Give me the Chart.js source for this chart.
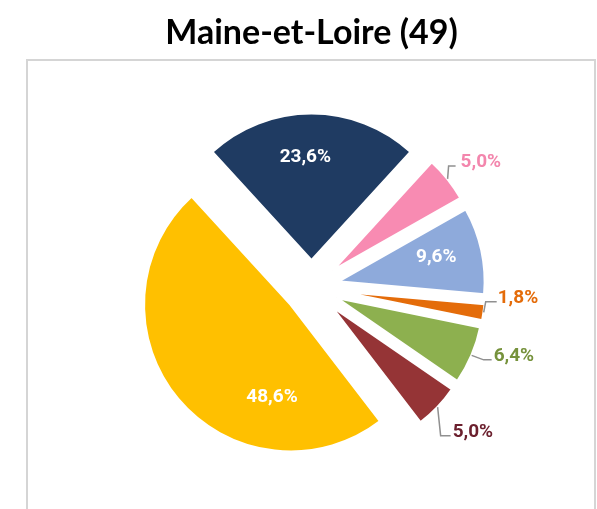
<!DOCTYPE html>
<html>
<head>
<meta charset="utf-8">
<script src="https://cdn.jsdelivr.net/npm/chart.js@4.4.1/dist/chart.umd.min.js"></script>
<style>
  html, body { margin: 0; padding: 0; background: #fff; }
  #wrap { position: relative; width: 597px; height: 509px; overflow: hidden; }
  #frame { position: absolute; left: 26px; top: 59px; width: 566px; height: 480px; border: 2px solid #d5d5d5; }
  canvas { position: absolute; left: 0; top: 0; }
</style>
</head>
<body>
<div id="wrap">
  <div id="frame"></div>
  <canvas id="pie" width="597" height="509"></canvas>
</div>
<script>
// data (clockwise from the navy slice at the top)
var chartTitle = 'Maine-et-Loire (49)';
var categories = ['Part 1', 'Part 2', 'Part 3', 'Part 4', 'Part 5', 'Part 6', 'Part 7'];
var values = [23.6, 5.0, 9.6, 1.8, 6.4, 5.0, 48.6];

var sliceColors = ['#1f3b62', '#f88bb2', '#8eaadb', '#e46c0a', '#8db04f', '#953436', '#ffc000'];
var labelColors = ['#ffffff', '#f386ad', '#ffffff', '#e46c0a', '#76923c', '#6b1f2d', '#ffffff'];

var EXPLODE = 27;   // every slice pulled out from the centre by this many px

// inside labels: [position along the slice (0..1), fraction of radius]
var insideLabels = { 0: [0.46, 0.70], 2: [0.45, 0.69], 6: [0.28, 0.64] };
// outside labels: [elbow dx, elbow dy, line length, gap to text]
var leaders = { 1: [1, -13, 7, 5], 3: [2, -10.5, 11, 1], 4: [12, 4.5, 8, 2], 5: [3, 28.5, 10, 2] };

function fmt(v) {
    return v.toFixed(1).replace('.', ',') + '%';
}

// move each arc out along its middle angle (chart.js 'offset' also grows the radius, we don't want that)
var explode = {
    id: 'explode',
    afterDatasetUpdate: function(chart, args) {
        chart.getDatasetMeta(args.index).data.forEach(function(arc) {
            var mid = (arc.startAngle + arc.endAngle) / 2;
            arc.x += Math.cos(mid) * EXPLODE;
            arc.y += Math.sin(mid) * EXPLODE;
        });
    }
};

var sliceLabels = {
    id: 'sliceLabels',
    afterDatasetsDraw: function(chart) {
        var ctx = chart.ctx;
        var arcs = chart.getDatasetMeta(0).data;
        ctx.save();
        ctx.font = 'bold 19px Roboto';
        arcs.forEach(function(arc, i) {
            var p = arc.getProps(['x', 'y', 'startAngle', 'endAngle', 'outerRadius'], true);
            var mid = (p.startAngle + p.endAngle) / 2;
            var r = p.outerRadius;
            var text = fmt(values[i]);
            if (insideLabels[i]) {
                var a = p.startAngle + (p.endAngle - p.startAngle) * insideLabels[i][0];
                var d = r * insideLabels[i][1];
                ctx.fillStyle = labelColors[i];
                ctx.textAlign = 'center';
                ctx.textBaseline = 'middle';
                ctx.fillText(text, p.x + Math.cos(a) * d, p.y + Math.sin(a) * d);
            } else if (leaders[i]) {
                var L = leaders[i];
                var ax = p.x + Math.cos(mid) * r, ay = p.y + Math.sin(mid) * r;
                var ex = ax + L[0], ey = ay + L[1];
                ctx.strokeStyle = '#909090';
                ctx.lineWidth = 1.5;
                ctx.beginPath();
                ctx.moveTo(ax, ay);
                ctx.lineTo(ex, ey);
                ctx.lineTo(ex + L[2], ey);
                ctx.stroke();
                ctx.fillStyle = labelColors[i];
                ctx.textAlign = 'left';
                ctx.textBaseline = 'alphabetic';
                ctx.fillText(text, ex + L[2] + L[3], ey + 1);
            }
        });
        ctx.restore();
    }
};

var ctx = document.getElementById('pie');
var chart = new Chart(ctx, {
    type: 'pie',
    data: {
        labels: categories,
        datasets: [{
            data: values,
            backgroundColor: sliceColors,
            borderColor: '#ffffff',
            borderWidth: 2.5
        }]
    },
    options: {
        responsive: false,
        animation: false,
        rotation: -42.5,
        radius: 147,
        layout: { padding: { left: 50, right: 24, top: 0, bottom: 0 } },
        plugins: {
            legend: { display: false },
            tooltip: { enabled: false },
            title: {
                display: true,
                text: chartTitle,
                color: '#000',
                font: { family: 'Lato', weight: 'bold', size: 34, lineHeight: 1.05 },
                padding: { top: 15.2, bottom: 14.7 }
            }
        }
    },
    plugins: [explode, sliceLabels]
});
</script>
</body>
</html>
